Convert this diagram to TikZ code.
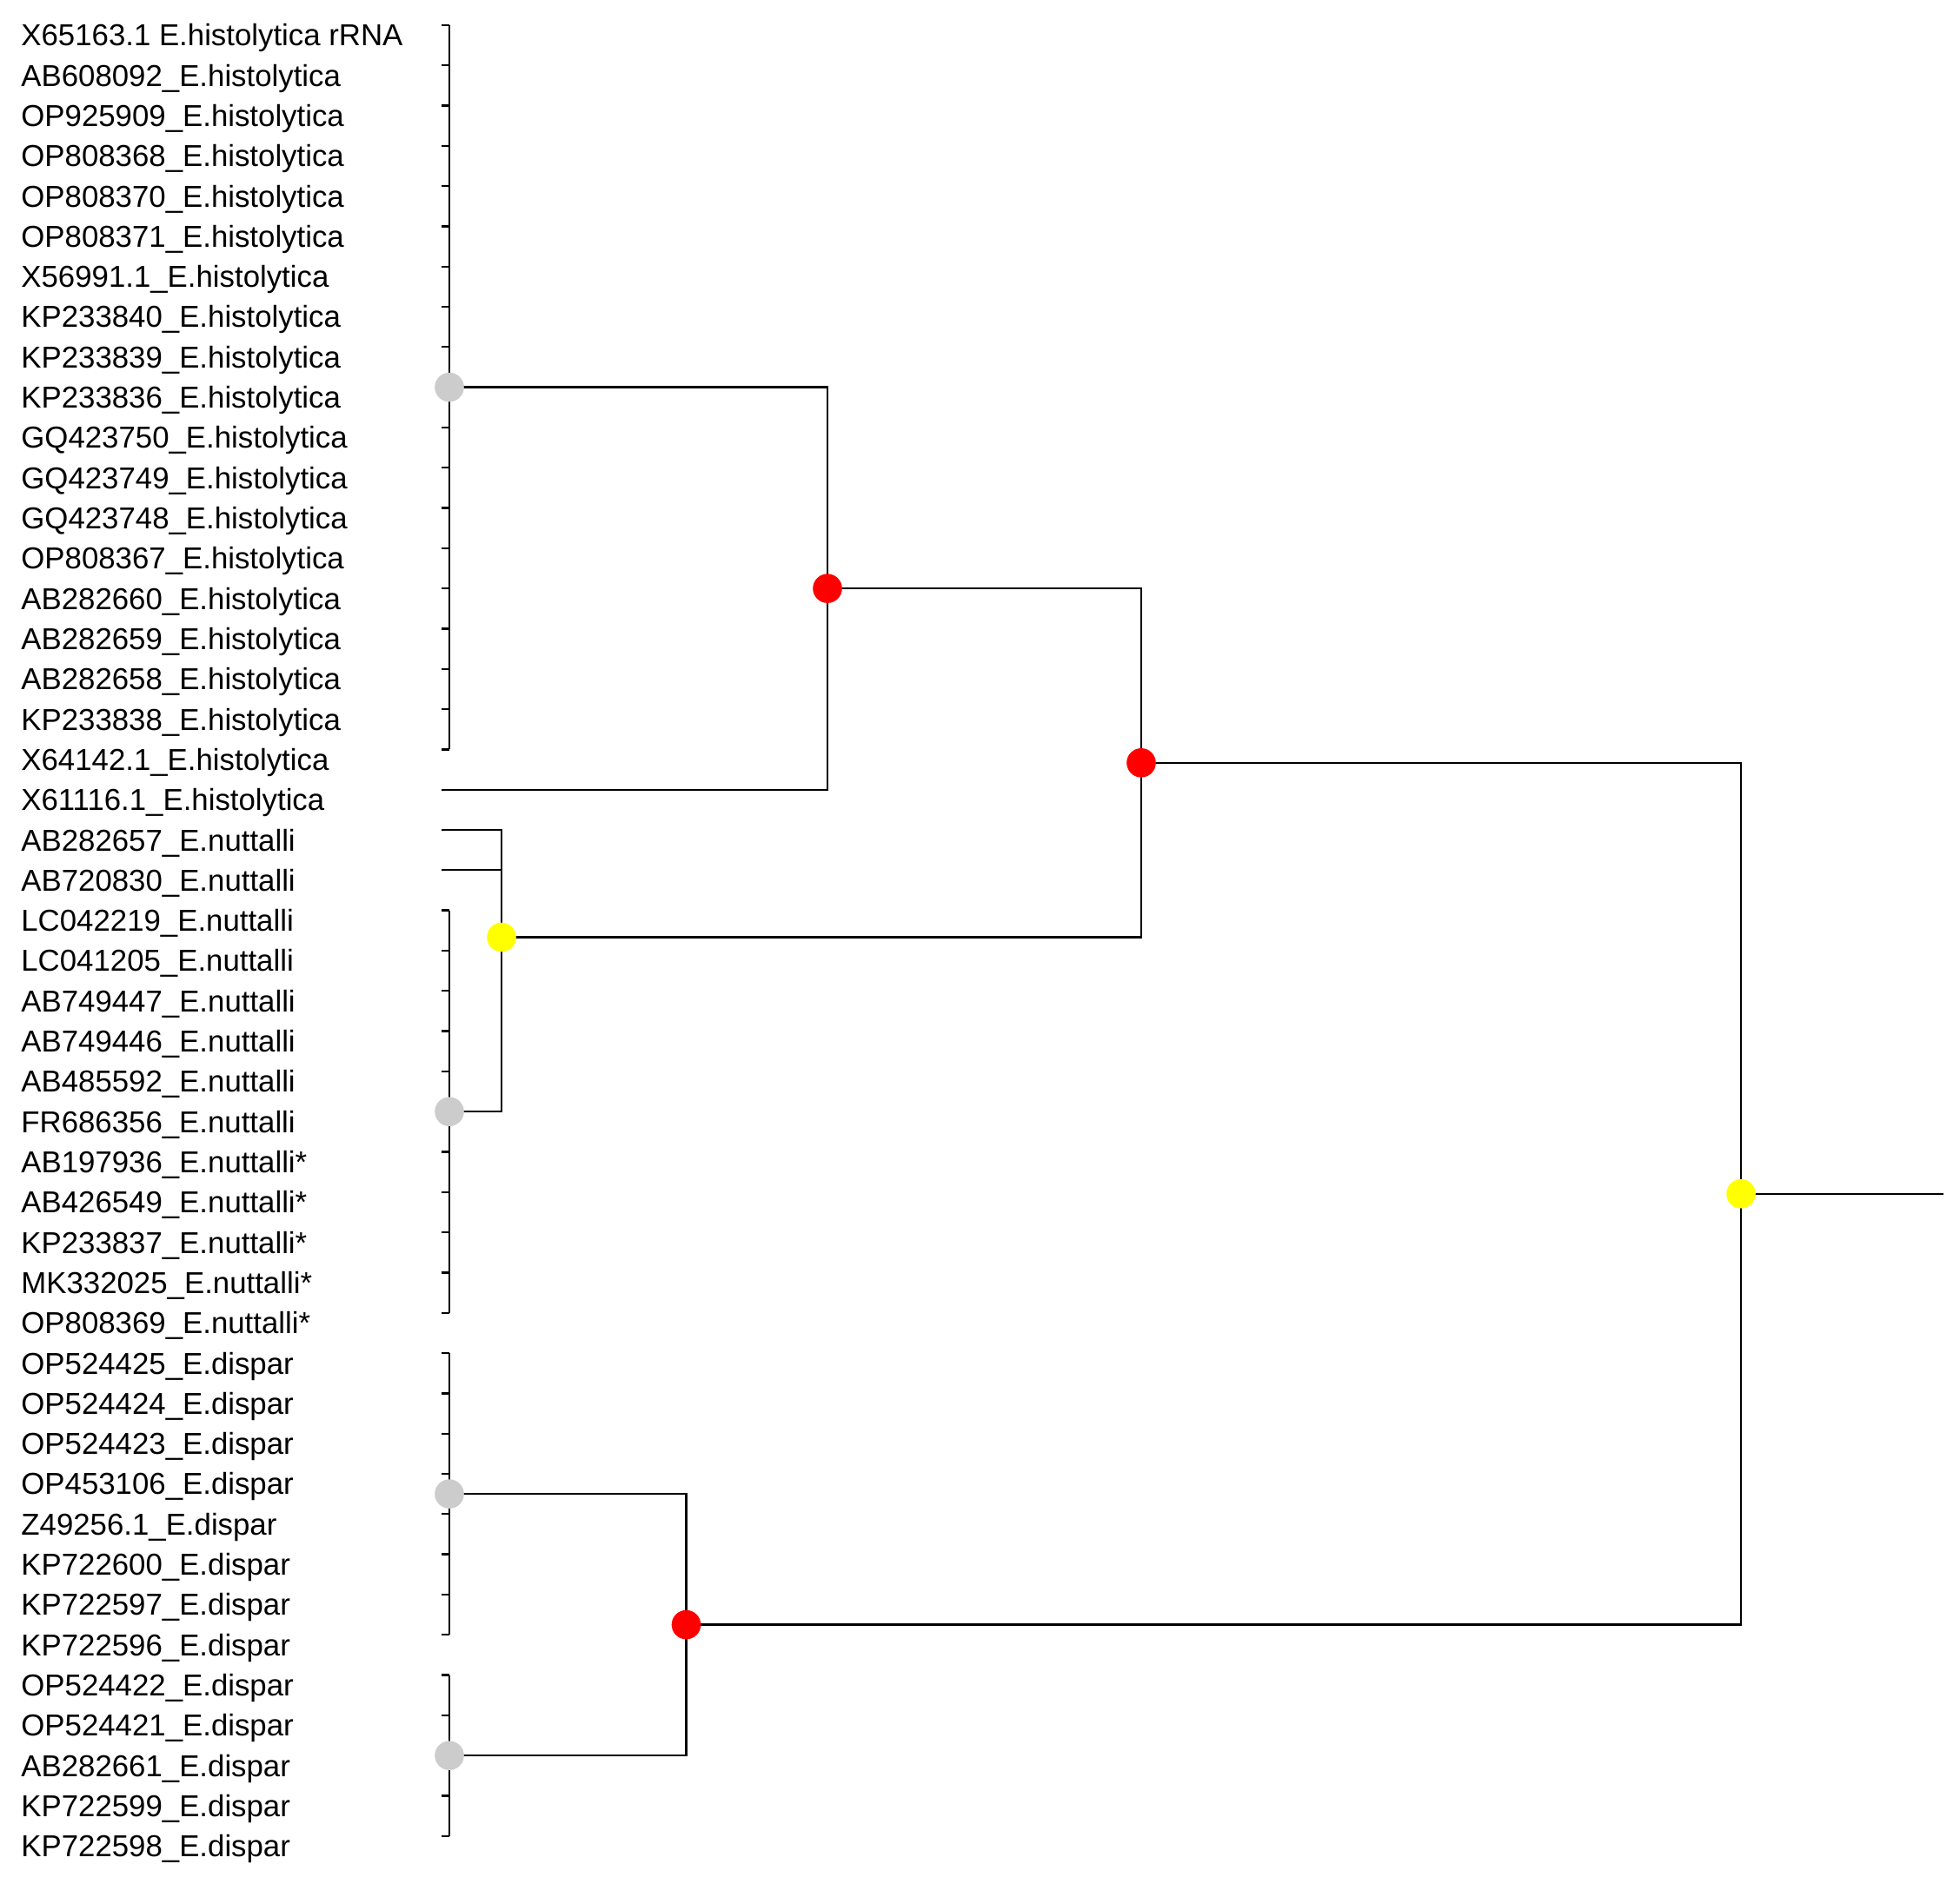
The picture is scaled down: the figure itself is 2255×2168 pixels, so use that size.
\documentclass[tikz,border=0pt]{standalone}
\usepackage{fontspec}
\setmainfont{Liberation Sans}
\pgfdeclarelayer{bg}
\pgfsetlayers{bg,main}
\definecolor{dotgray}{RGB}{204,204,204}
\definecolor{dotred}{RGB}{255,0,0}
\definecolor{dotyellow}{RGB}{255,255,0}
\begin{document}
\begin{tikzpicture}[x=0.5pt,y=-0.5pt,
  lbl/.style={anchor=base west,inner sep=0pt,font=\fontsize{17.4pt}{20pt}\selectfont},
  br/.style={line width=1.15pt,black},
  dot/.style={circle,minimum size=16.8pt,inner sep=0pt,draw=none},
  dotg/.style={dot,fill=dotgray},
  dotr/.style={dot,fill=dotred},
  doty/.style={dot,fill=dotyellow}]
\useasboundingbox (0,0) rectangle (2255,2168);
\foreach \i/\t in {0/X65163.1 E.histolytica rRNA,1/AB608092\_E.histolytica,2/OP925909\_E.histolytica,3/OP808368\_E.histolytica,4/OP808370\_E.histolytica,5/OP808371\_E.histolytica,6/X56991.1\_E.histolytica,7/KP233840\_E.histolytica,8/KP233839\_E.histolytica,9/KP233836\_E.histolytica,10/GQ423750\_E.histolytica,11/GQ423749\_E.histolytica,12/GQ423748\_E.histolytica,13/OP808367\_E.histolytica,14/AB282660\_E.histolytica,15/AB282659\_E.histolytica,16/AB282658\_E.histolytica,17/KP233838\_E.histolytica,18/X64142.1\_E.histolytica,19/X61116.1\_E.histolytica,20/AB282657\_E.nuttalli,21/AB720830\_E.nuttalli,22/LC042219\_E.nuttalli,23/LC041205\_E.nuttalli,24/AB749447\_E.nuttalli,25/AB749446\_E.nuttalli,26/AB485592\_E.nuttalli,27/FR686356\_E.nuttalli,28/AB197936\_E.nuttalli*,29/AB426549\_E.nuttalli*,30/KP233837\_E.nuttalli*,31/MK332025\_E.nuttalli*,32/OP808369\_E.nuttalli*,33/OP524425\_E.dispar,34/OP524424\_E.dispar,35/OP524423\_E.dispar,36/OP453106\_E.dispar,37/Z49256.1\_E.dispar,38/KP722600\_E.dispar,39/KP722597\_E.dispar,40/KP722596\_E.dispar,41/OP524422\_E.dispar,42/OP524421\_E.dispar,43/AB282661\_E.dispar,44/KP722599\_E.dispar,45/KP722598\_E.dispar}{
  \node[lbl] (L\i) at (24,{28.8+46.31*\i+24}) {\t};
  \coordinate (T\i) at (508,{28.8+46.31*\i});
  \coordinate (B\i) at (517,{28.8+46.31*\i});
}
% internal nodes
\node[dotg] (g1) at (B9) {};
\node[dotg] (g2) at (B27) {};
\node[dotg] (g3) at (517,1719.1) {};
\node[dotg] (g4) at (B43) {};
\node[dotr] (r1) at (952,677.14) {};
\node[doty] (y1) at (577,1078.49) {};
\node[dotr] (r2) at (1313,877.8) {};
\node[dotr] (r3) at (789.5,1869.6) {};
\node[doty] (root) at (2003,1373.7) {};
\coordinate (rootend) at (2236,1373.7);
\begin{pgfonlayer}{bg}
% brackets with ticks
\foreach \i in {0,...,18,22,23,...,32,33,34,...,45}{
  \draw[br] (T\i) -- (B\i);
}
\draw[br] (B0) -- (B18);
\draw[br] (B22) -- (B32);
\draw[br] (B33) -- (B40);
\draw[br] (B41) -- (B45);
% tree
\draw[br] (g1.center) -| (r1.center);
\draw[br] (T19) -| (r1.center);
\draw[br] (T20) -| (y1.center);
\draw[br] (T21) -- (T21 -| y1);
\draw[br] (g2.center) -| (y1.center);
\draw[br] (r1.center) -| (r2.center);
\draw[br] (y1.center) -| (r2.center);
\draw[br] (g3.center) -| (r3.center);
\draw[br] (g4.center) -| (r3.center);
\draw[br] (r2.center) -| (root.center);
\draw[br] (r3.center) -| (root.center);
\draw[br] (root.center) -- (rootend);
\end{pgfonlayer}
\end{tikzpicture}
\end{document}
